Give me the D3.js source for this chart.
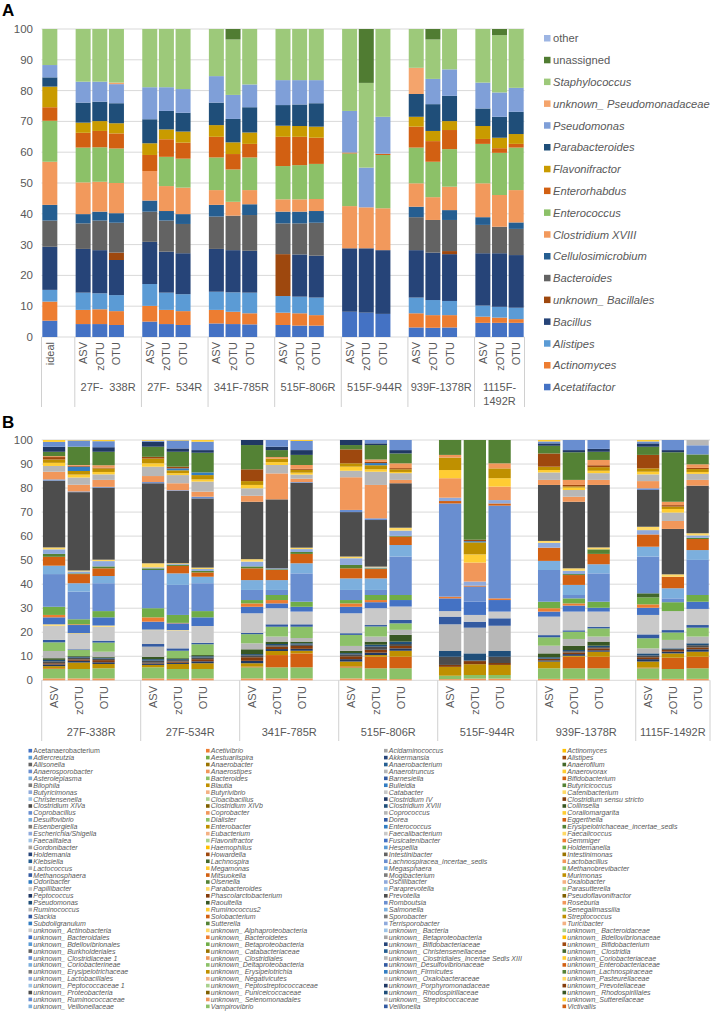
<!DOCTYPE html>
<meta charset="utf-8">
<script src="https://d3js.org/d3.v7.min.js"></script>
<style>
  body { margin: 0; background: #fff; }
  svg text { font-family: "Liberation Sans", Arial, sans-serif; fill: #595959; }
</style>
<div id="chart"></div>
<script>
// ---------------- panel A data ----------------
var seriesA = ["Acetatifactor", "Actinomyces", "Alistipes", "Bacillus", "unknown_ Bacillales", "Bacteroides",
  "Cellulosimicrobium", "Clostridium XVIII", "Enterococcus", "Enterorhabdus", "Flavonifractor",
  "Parabacteroides", "Pseudomonas", "unknown_ Pseudomonadaceae", "Staphylococcus", "unassigned", "other"];
var colorsA = ["#4472C4", "#ED7D31", "#5B9BD5", "#264478", "#9E480E", "#636363", "#255E91", "#F2995C",
  "#8CC168", "#D26012", "#C99B00", "#1F4E79", "#7F9FD8", "#F4A46C", "#9DC97A", "#507C32", "#9DB5E3"];
var uprightA = ["other", "unassigned"];
var groupNamesA = ["", "27F-  338R", "27F-  534R", "341F-785R", "515F-806R", "515F-944R", "939F-1378R", "1115F-1492R"];
var methods = ["ASV", "zOTU", "OTU"];

// percentages, one row per bar, columns in seriesA order
var aIdeal = [[5.3, 6.2, 3.8, 14.0, 0, 8.5, 5.1, 14.0, 13.3, 4.4, 6.7, 3.0, 4.0, 0, 11.7, 0, 0]];
var a27F338R = [
  [4.2, 4.6, 5.6, 14.2, 0, 8.3, 3.0, 10.3, 11.3, 4.8, 3.3, 6.5, 6.8, 0, 17.1, 0, 0],
  [4.2, 4.8, 5.2, 14.0, 0, 9.6, 2.9, 9.7, 11.2, 5.3, 3.2, 6.3, 6.5, 0, 17.1, 0, 0],
  [3.9, 4.5, 5.2, 11.4, 2.4, 9.7, 3.1, 9.8, 11.2, 4.9, 3.3, 6.5, 6.2, 0.5, 17.4, 0, 0]];
var a27F534R = [
  [5.0, 5.1, 7.1, 13.7, 0, 9.8, 3.6, 9.6, 0, 5.2, 3.8, 7.8, 10.4, 0, 18.9, 0, 0],
  [4.2, 4.6, 5.6, 13.3, 0, 10.1, 3.1, 8.1, 9.5, 5.7, 3.2, 6.0, 7.7, 0, 18.9, 0, 0],
  [3.9, 4.5, 5.5, 13.3, 0, 9.5, 3.2, 8.6, 9.4, 5.2, 3.6, 6.1, 7.7, 0, 19.5, 0, 0]];
var a341F785R = [
  [4.4, 4.4, 5.9, 13.9, 0, 10.5, 3.8, 4.8, 10.6, 6.7, 3.8, 7.3, 8.6, 0, 15.3, 0, 0],
  [4.2, 4.0, 6.3, 13.7, 0, 11.2, 0, 4.5, 10.5, 5.0, 3.8, 7.6, 7.8, 0, 18.0, 3.4, 0],
  [4.1, 3.6, 6.7, 13.6, 0, 11.6, 3.5, 4.6, 10.6, 4.4, 3.7, 8.2, 7.4, 0, 18.0, 0, 0]];
var a515F806R = [
  [3.9, 4.0, 5.4, 0, 13.6, 10.0, 3.8, 4.0, 10.8, 9.5, 3.6, 6.7, 8.1, 0, 16.6, 0, 0],
  [3.7, 4.0, 5.4, 13.7, 0, 10.1, 3.8, 4.0, 11.1, 9.2, 3.5, 7.0, 7.9, 0, 16.6, 0, 0],
  [3.7, 3.4, 5.7, 13.6, 0, 10.7, 3.8, 3.9, 11.4, 8.5, 3.6, 7.6, 7.5, 0, 16.6, 0, 0]];
var a515F944R = [
  [8.2, 0, 0, 20.6, 0, 0, 0, 13.7, 17.1, 0.3, 0, 0, 13.5, 0, 26.6, 0, 0],
  [7.9, 0, 0, 20.9, 0, 0, 0, 13.3, 0, 0, 0, 0, 12.9, 0, 27.5, 17.5, 0],
  [7.5, 0, 0, 20.7, 0, 0, 0, 13.6, 17.3, 0.4, 0, 0, 12.0, 0, 28.5, 0, 0]];
var a939F1378R = [
  [3.1, 4.6, 5.1, 15.4, 0, 10.7, 3.4, 7.6, 11.6, 6.8, 3.2, 7.4, 0, 8.5, 12.6, 0, 0],
  [3.0, 4.1, 4.9, 15.4, 0, 10.6, 0, 7.4, 11.5, 6.7, 3.3, 8.7, 8.2, 0, 12.8, 3.4, 0],
  [3.1, 4.0, 4.6, 15.2, 1.0, 10.1, 3.2, 7.6, 12.2, 6.2, 2.9, 8.2, 8.6, 0, 13.1, 0, 0]];
var a1115F1492R = [
  [4.6, 2.0, 3.6, 17.0, 0, 9.2, 2.5, 11.0, 12.8, 1.6, 4.2, 5.7, 8.4, 0, 17.4, 0, 0],
  [4.6, 1.7, 3.5, 17.4, 0, 8.6, 0, 10.3, 13.7, 1.5, 3.4, 6.8, 7.9, 0, 18.6, 2.0, 0],
  [4.6, 1.2, 3.7, 17.1, 0, 8.5, 2.1, 10.5, 13.8, 1.2, 3.2, 7.2, 7.8, 0, 19.1, 0, 0]];

// ---------------- panel B data ----------------
// legend, read column by column
var legendCol1 = ["Acetanaerobacterium", "Adlercreutzia", "Allisonella", "Anaerosporobacter", "Asteroleplasma", "Bilophila",
  "Butyricimonas", "Christensenella", "Clostridium XIVa", "Coprobacillus", "Desulfovibrio", "Eisenbergiella",
  "Escherichia/Shigella", "Faecalitalea", "Gordonibacter", "Holdemania", "Klebsiella", "Lactococcus", "Methanosphaera",
  "Odoribacter", "Papillibacter", "Peptococcus", "Pseudomonas", "Ruminococcus", "Slackia", "Subdoligranulum",
  "unknown_ Actinobacteria", "unknown_ Bacteroidales", "unknown_ Bdellovibrionales", "unknown_ Burkholderiales",
  "unknown_ Clostridiaceae 1", "unknown_ Coriobacterineae", "unknown_ Erysipelotrichaceae", "unknown_ Lactobacillales",
  "unknown_ Peptococcaceae 1", "unknown_ Proteobacteria", "unknown_ Ruminococcaceae", "unknown_ Veillonellaceae"];
var legendCol2 = ["Acetivibrio", "Aestuariispira", "Anaerobacter", "Anaerostipes", "Bacteroides", "Blautia", "Butyrivibrio",
  "Cloacibacillus", "Clostridium XIVb", "Coprobacter", "Dialister", "Enterobacter", "Eubacterium", "Flavonifractor",
  "Haemophilus", "Howardella", "Lachnospira", "Megamonas", "Mitsuokella", "Olsenella", "Parabacteroides",
  "Phascolarctobacterium", "Raoultella", "Ruminococcus2", "Solobacterium", "Sutterella", "unknown_ Alphaproteobacteria",
  "unknown_ Bacteroidetes", "unknown_ Betaproteobacteria", "unknown_ Catabacteriaceae", "unknown_ Clostridiales",
  "unknown_Deltaproteobacteria", "unknown_ Erysipelotrichia", "unknown_ Negativicutes", "unknown_ Peptostreptococcaceae",
  "unknown_ Puniceicoccaceae", "unknown_ Selenomonadales", "Vampirovibrio"];
var legendCol3 = ["Acidaminococcus", "Akkermansia", "Anaerobacterium", "Anaerotruncus", "Barnesiella", "Bulleidia", "Catabacter",
  "Clostridium IV", "Clostridium XVIII", "Coprococcus", "Dorea", "Enterococcus", "Faecalibacterium", "Fusicatenibacter",
  "Hespellia", "Intestinibacter", "Lachnospiracea_incertae_sedis", "Megasphaera", "Mogibacterium", "Oscillibacter",
  "Paraprevotella", "Prevotella", "Romboutsia", "Salmonella", "Sporobacter", "Terrisporobacter", "unknown_ Bacteria",
  "unknown_ Betaproteobacteria", "unknown_ Bifidobacteriaceae", "unknown_ Christensenellaceae",
  "unknown_ Clostridiales_Incertae Sedis XIII", "unknown_Desulfovibrionaceae", "unknown_Firmicutes",
  "unknown_ Oxalobacteraceae", "unknown_Porphyromonadaceae", "unknown_ Rhodospirillaceae", "unknown_ Streptococcaceae",
  "Veillonella"];
var legendCol4 = ["Actinomyces", "Alistipes", "Anaerofilum", "Anaerovorax", "Bifidobacterium", "Butyricicoccus", "Catenibacterium",
  "Clostridium sensu stricto", "Collinsella", "Coraliomargarita", "Eggerthella", "Erysipelotrichaceae_incertae_sedis",
  "Faecalicoccus", "Gemmiger", "Holdemanella", "Intestinimonas", "Lactobacillus", "Methanobrevibacter", "Murimonas",
  "Oxalobacter", "Parasutterella", "Pseudoflavonifractor", "Roseburia", "Senegalimassilia", "Streptococcus", "Turicibacter",
  "unknown_ Bacteroidaceae", "unknown_ Bdellovibrionaceae", "unknown_ Bifidobacterium", "unknown_ Clostridia",
  "unknown_Coriobacteriaceae", "unknown_Enterobacteriaceae", "unknown_Lachnospiraceae", "unknown_Pasteurellaceae",
  "unknown_Prevotellaceae", "unknown_ Rhodospirillales", "unknown_Sutterellaceae", "Victivallis"];

// taxa that show up as visible segments, in stacking order
var taxaB = ["Anaerostipes", "Bacteroides", "Bifidobacterium", "Blautia", "Clostridium IV", "Clostridium sensu stricto",
  "Clostridium XIVa", "Clostridium XVIII", "Collinsella", "Coprococcus", "Dialister", "Dorea", "Faecalibacterium",
  "Faecalicoccus", "Fusicatenibacter", "Gemmiger", "Holdemanella", "Lachnospira", "Lachnospiracea_incertae_sedis",
  "Megasphaera", "Mitsuokella", "Olsenella", "Oscillibacter", "Parabacteroides", "Prevotella", "Romboutsia", "Roseburia",
  "Ruminococcus", "Ruminococcus2", "Streptococcus", "Subdoligranulum", "unknown_ Bifidobacterium", "unknown_ Clostridiales",
  "unknown_Lachnospiraceae", "unknown_Porphyromonadaceae", "unknown_ Ruminococcaceae", "unknown_ Streptococcaceae",
  "unknown_Sutterellaceae"];

var b27F338R = [
  [0.8, 3.9, 0.3, 0.9, 0.7, 0.5, 0.8, 0.6, 0.7, 3.0, 3.6, 1.0, 5.9, 0.6, 2.9, 1.0, 3.4, 0, 13.6, 3.5, 3.7, 1.2, 1.9, 0.8, 27.8, 0.5, 3.2, 2.4, 1.3, 1.4, 0, 1.0, 0.4, 1.8, 2.1, 2.0, 0, 0.8],
  [0.8, 3.9, 0, 2.7, 0.7, 0.6, 0.7, 0.4, 0.3, 0, 2.5, 0.3, 6.4, 0.3, 3.4, 0.3, 2.1, 0, 11.5, 3.5, 3.8, 0.3, 0.8, 0.4, 32.6, 0.3, 2.8, 3.0, 1.2, 1.5, 1.8, 0.4, 0.3, 7.6, 0, 2.6, 0, 0.2],
  [0.8, 4.2, 0, 1.8, 0.7, 0.9, 0.6, 0.4, 0.4, 2.1, 3.8, 0.8, 5.8, 0.5, 3.4, 0, 2.6, 0, 11.6, 3.0, 3.2, 0.8, 2.2, 0.6, 30.0, 0.3, 2.9, 2.3, 1.0, 1.5, 0, 0.3, 1.0, 5.6, 1.9, 2.5, 0, 0.5]];
var b27F534R = [
  [0.8, 4.6, 0, 1.0, 0.6, 0.3, 0.9, 0.6, 1.0, 4.2, 0, 1.1, 5.8, 0.2, 3.3, 1.8, 3.8, 0, 15.9, 0, 0, 0.7, 0.4, 1.7, 33.3, 0.5, 2.5, 3.9, 1.4, 2.0, 0, 0.7, 0, 4.2, 2.1, 0.4, 0, 0.3],
  [0.6, 4.1, 0, 2.1, 0.5, 0.5, 0.6, 0.4, 0.4, 0, 3.1, 1.0, 7.4, 0.2, 2.8, 0.2, 3.3, 0, 12.5, 4.8, 3.1, 0.5, 0.3, 0.3, 30.1, 0.3, 2.9, 3.4, 0.8, 1.2, 0.8, 0.7, 0, 6.2, 1.4, 3.3, 0, 0.2],
  [0.8, 3.9, 0, 2.4, 0.8, 0.9, 0.7, 0.5, 0.5, 0, 4.5, 0.6, 7.0, 0, 3.6, 0, 2.6, 0, 11.6, 2.7, 1.8, 0.6, 0.8, 0.6, 28.8, 0.7, 2.1, 4.2, 0.9, 1.8, 1.1, 0, 0, 8.2, 1.1, 3.5, 0, 0.7]];
var b341F785R = [
  [0.8, 4.6, 0.3, 1.4, 1.0, 1.5, 0.8, 0.5, 2.0, 2.5, 3.8, 0.5, 8.2, 0, 2.7, 1.4, 1.4, 0, 4.2, 4.1, 4.9, 0.8, 2.0, 1.0, 23.9, 0, 2.5, 3.1, 1.4, 1.6, 0, 4.9, 0, 10.1, 2.1, 0, 0, 0],
  [0.8, 4.6, 5.1, 1.7, 0.8, 1.0, 0.6, 0.5, 1.0, 2.1, 4.1, 1.0, 6.7, 0, 2.0, 1.4, 2.1, 0, 2.1, 4.1, 4.2, 0.3, 0.4, 0, 28.7, 0, 10.8, 3.5, 1.2, 1.5, 0, 0, 0.6, 2.9, 1.4, 2.8, 0, 0],
  [0.8, 4.6, 5.8, 1.1, 0.8, 1.2, 0.6, 0.5, 0.7, 1.5, 4.7, 1.0, 5.3, 0, 2.0, 0, 2.1, 0, 11.8, 4.2, 3.9, 0.8, 1.2, 0.6, 27.0, 0.3, 1.4, 1.7, 0.8, 1.2, 0, 0.4, 1.6, 4.2, 2.0, 3.8, 0, 0.4]];
var b515F806R = [
  [0.8, 4.5, 0.5, 2.0, 1.0, 1.2, 0.8, 0.5, 1.0, 2.0, 4.6, 0.7, 8.3, 0, 2.7, 1.4, 1.4, 0, 4.2, 4.8, 4.2, 1.4, 2.8, 0.7, 18.5, 0.9, 13.6, 2.7, 1.7, 1.4, 0, 5.8, 0, 1.8, 2.1, 0, 0, 0],
  [0.6, 4.4, 4.8, 0.7, 1.0, 1.2, 1.3, 0.8, 1.3, 2.1, 4.2, 0.6, 7.0, 0, 2.5, 0.9, 2.1, 0, 2.1, 4.8, 3.9, 0.3, 0.4, 0.3, 19.4, 0.7, 13.9, 5.5, 1.0, 1.7, 0.9, 0.5, 1.0, 6.0, 0.7, 1.4, 0, 0],
  [0.5, 4.5, 4.8, 2.5, 1.0, 1.0, 0.8, 1.0, 2.8, 2.1, 2.7, 1.4, 5.6, 0, 2.7, 0, 2.1, 0, 16.0, 4.8, 3.5, 0.3, 2.2, 1.2, 18.5, 0, 1.4, 2.8, 0.5, 1.1, 0, 0.5, 2.0, 4.1, 1.4, 4.2, 0, 0]];
var b515F944R = [
  [0.5, 1.4, 0, 3.7, 0, 0.8, 3.4, 2.4, 0, 11.1, 0, 3.2, 2.3, 0, 5.3, 0.7, 0, 0, 38.8, 0, 1.0, 0, 1.4, 0, 0, 0, 8.1, 0, 3.4, 5.2, 0, 0, 1.1, 6.2, 0, 0, 0, 0],
  [0.7, 1.5, 0, 4.5, 0, 1.3, 0.3, 2.9, 0, 10.7, 0, 2.5, 2.8, 0, 5.5, 0, 0, 0, 6.3, 0, 0.4, 0, 1.7, 0, 0, 0, 7.9, 0, 3.4, 5.0, 0.5, 0.6, 0, 41.5, 0, 0, 0, 0],
  [0.7, 1.5, 0, 4.2, 0, 0.8, 2.6, 2.4, 0, 10.5, 0, 3.1, 2.8, 0, 4.8, 0.7, 0, 0, 38.6, 0, 0.9, 0, 1.4, 0, 0, 0, 5.6, 0, 3.5, 4.1, 0, 0, 2.1, 9.7, 0, 0, 0, 0]];
var b939F1378R = [
  [0.6, 4.4, 0, 2.8, 0.5, 0.7, 0, 0.6, 1.6, 3.2, 3.5, 0.9, 7.7, 0, 2.1, 1.4, 2.7, 0, 13.2, 3.8, 5.5, 0, 2.0, 0.8, 23.3, 0, 2.1, 3.1, 1.0, 1.4, 0, 5.5, 0, 3.2, 1.0, 0.8, 0, 0.6],
  [0.6, 4.4, 4.8, 0.4, 0.7, 0.7, 0.5, 0.5, 1.8, 2.8, 3.0, 0.6, 7.8, 0, 2.5, 0.9, 2.1, 0, 1.4, 4.2, 4.1, 0.4, 1.4, 1.0, 27.7, 0, 2.1, 2.8, 1.0, 0.5, 0, 0.6, 2.1, 11.5, 0.9, 4.2, 0, 0],
  [0.6, 4.4, 4.8, 2.1, 0.6, 0.8, 0.5, 0.6, 1.7, 2.1, 3.4, 0.7, 6.3, 0, 1.6, 0, 2.5, 0, 11.8, 3.8, 4.3, 1.9, 0, 0.8, 26.0, 0, 2.1, 2.8, 1.0, 1.5, 0, 0.8, 2.2, 3.4, 1.2, 3.7, 0, 0]];
var b1115F1492R = [
  [0.6, 4.4, 0.3, 2.5, 1.0, 0.8, 0.7, 0.9, 0, 2.1, 4.2, 1.6, 8.1, 0, 3.0, 1.4, 2.9, 1.7, 15.3, 4.1, 5.1, 0, 1.8, 1.4, 15.3, 0.7, 3.0, 2.8, 1.1, 1.4, 0, 5.6, 0, 3.4, 1.4, 0.8, 0, 0.6],
  [0.6, 4.1, 4.7, 1.8, 0.7, 0.7, 0.4, 0.3, 0, 3.5, 3.1, 1.0, 7.9, 0, 0, 0, 3.7, 0, 1.6, 4.2, 4.8, 0, 0, 1.0, 18.9, 0, 3.3, 3.5, 1.5, 1.0, 0, 0.6, 1.4, 20.6, 0.9, 4.2, 0, 0],
  [0.6, 4.4, 4.8, 2.1, 1.0, 0.8, 0.9, 0.8, 0, 2.8, 3.7, 1.1, 6.7, 0, 3.0, 0, 2.8, 0, 14.6, 4.1, 4.6, 0.5, 1.0, 0.9, 19.8, 0, 2.4, 2.5, 0.8, 1.2, 0, 0.5, 1.5, 4.1, 0, 3.8, 2.2, 0]];
var groupNamesB = ["27F-338R", "27F-534R", "341F-785R", "515F-806R", "515F-944R", "939F-1378R", "1115F-1492R"];

// Excel style shades used for the long legend
var shades = [
  ["#4472C4", "#ED7D31", "#A5A5A5", "#FFC000", "#5B9BD5", "#70AD47"],
  ["#264478", "#9E480E", "#636363", "#997300", "#255E91", "#43682B"],
  ["#698ED0", "#F1975A", "#B7B7B7", "#FFCD33", "#7CAFDD", "#8CC168"],
  ["#335AA1", "#D26012", "#7C7C7C", "#BF9000", "#327DC2", "#548235"],
  ["#8FAADC", "#F4B183", "#C9C9C9", "#FFD966", "#9DC3E6", "#A9D18E"],
  ["#203864", "#843C0C", "#4D4D4D", "#7F6000", "#1F4E79", "#385723"]];
function shadeFor(i) {
  var b = Math.floor(i / 6);
  var v = b < 6 ? b : [2, 3, 4, 0, 1, 2, 3, 4, 5][(b - 6) % 9];
  return shades[v][i % 6];
}

// all taxa in alphabetical (row by row) order
var allTaxa = [];
legendCol1.forEach(function(d, r) {
  allTaxa.push(legendCol1[r], legendCol2[r], legendCol3[r], legendCol4[r]);
});

var svg = d3.select("#chart").append("svg")
  .attr("width", 712).attr("height", 1012);
svg.append("rect").attr("width", 712).attr("height", 1012).attr("fill", "#fff");

// one stacked panel with grouped category axis
function drawPanel(p) {
  var domain = [], rows = [], spans = [];
  p.groups.forEach(function(g, gi) {
    var firstKey = null;
    g.bars.forEach(function(b, bi) {
      var key = gi + "|" + b;
      if (firstKey === null) firstKey = key;
      domain.push(key);
      var row = {key: key, label: b};
      p.keys.forEach(function(k, ki) { row[k] = g.values[bi][ki]; });
      rows.push(row);
    });
    if (gi < p.groups.length - 1) domain.push("gap" + gi);
    spans.push({name: g.name, first: firstKey});
  });

  var x = d3.scaleBand().domain(domain).range([p.x0, p.x1])
    .paddingInner(0.1).paddingOuter(0.05);
  var y = d3.scaleLinear().domain([0, 100]).range([p.yBottom, p.yTop]);
  var step = x.step();

  var g = svg.append("g");

  // gridlines and tick labels
  y.ticks(10).forEach(function(t) {
    g.append("line").attr("x1", p.x0).attr("x2", p.x1)
      .attr("y1", y(t)).attr("y2", y(t))
      .attr("stroke", "#D9D9D9").attr("stroke-width", 1);
    g.append("text").attr("x", 33).attr("y", y(t) + 4)
      .attr("text-anchor", "end").style("font-size", "11.5px").text(t);
  });

  // stacked bars
  var stacked = d3.stack().keys(p.keys)(rows);
  stacked.forEach(function(s, si) {
    g.append("g").attr("fill", p.color(p.keys[si], si))
      .selectAll("rect").data(s.filter(function(d) { return d[1] - d[0] > 0; }))
      .enter().append("rect")
        .attr("x", function(d) { return x(d.data.key); })
        .attr("width", x.bandwidth())
        .attr("y", function(d) { return y(d[1]); })
        .attr("height", function(d) { return y(d[0]) - y(d[1]); });
  });

  // category labels
  rows.forEach(function(r) {
    var cx = x(r.key) + x.bandwidth() / 2 + 4;
    g.append("text").attr("transform", "translate(" + cx + "," + p.labelY + ") rotate(-90)")
      .attr("text-anchor", "end").style("font-size", "11px").text(r.label);
  });

  // group separators and labels
  var edges = spans.map(function(s) { return x(s.first) - step * 0.05; });
  edges.push(p.x1);
  edges.forEach(function(e) {
    g.append("line").attr("x1", e).attr("x2", e)
      .attr("y1", p.yBottom).attr("y2", p.sepBottom)
      .attr("stroke", "#D0D0D0").attr("stroke-width", 1);
  });
  spans.forEach(function(s, i) {
    if (!s.name) return;
    var cx = (edges[i] + edges[i + 1]) / 2;
    var width = edges[i + 1] - edges[i];
    var t = g.append("text").attr("x", cx).attr("y", p.groupY)
      .attr("text-anchor", "middle").style("font-size", "11px")
      .style("white-space", "pre").text(s.name);
    if (t.node().getComputedTextLength() > width - 2 && s.name.indexOf("-") > 0) {
      var cut = s.name.indexOf("-") + 1;
      t.text(null);
      t.append("tspan").attr("x", cx).text(s.name.slice(0, cut));
      t.append("tspan").attr("x", cx).attr("dy", 14).text(s.name.slice(cut));
    }
  });
}

// ---------------- panel A ----------------
var valuesA = [aIdeal, a27F338R, a27F534R, a341F785R, a515F806R, a515F944R, a939F1378R, a1115F1492R];
drawPanel({
  groups: groupNamesA.map(function(n, i) {
    return {name: n, bars: i === 0 ? ["ideal"] : methods, values: valuesA[i]};
  }),
  keys: seriesA,
  color: function(k, i) { return colorsA[i]; },
  x0: 41.5, x1: 524.5, yTop: 29, yBottom: 337,
  labelY: 342, groupY: 391, sepBottom: 407
});

svg.append("text").attr("x", 2).attr("y", 16).style("font-size", "17px")
  .style("font-weight", "bold").style("fill", "#000").text("A");

// legend A (reverse stacking order)
seriesA.slice().reverse().forEach(function(name, i) {
  var cy = 38.3 + i * 21.8;
  var idx = seriesA.indexOf(name);
  svg.append("rect").attr("x", 544).attr("y", cy - 3.3).attr("width", 6.5).attr("height", 6.5)
    .attr("fill", colorsA[idx]);
  svg.append("text").attr("x", 553).attr("y", cy + 4)
    .style("font-size", "11.2px")
    .style("fill", "#595959")
    .style("font-style", uprightA.indexOf(name) >= 0 ? "normal" : "italic")
    .style("white-space", "pre")
    .text(name);
});

// ---------------- panel B ----------------
var valuesB = [b27F338R, b27F534R, b341F785R, b515F806R, b515F944R, b939F1378R, b1115F1492R];
drawPanel({
  groups: groupNamesB.map(function(n, i) {
    return {name: n, bars: methods, values: valuesB[i]};
  }),
  keys: taxaB,
  color: function(k) { return shadeFor(allTaxa.indexOf(k)); },
  x0: 41.7, x1: 710, yTop: 440, yBottom: 680.3,
  labelY: 686, groupY: 736, sepBottom: 741
});

svg.append("text").attr("x", 2).attr("y", 428).style("font-size", "17px")
  .style("font-weight", "bold").style("fill", "#000").text("B");

// legend B: four columns
var colX = [28.5, 206, 384, 562.5];
[legendCol1, legendCol2, legendCol3, legendCol4].forEach(function(col, c) {
  col.forEach(function(name, r) {
    var idx = r * 4 + c;
    var cy = 750.7 + r * 6.91;
    svg.append("rect").attr("x", colX[c]).attr("y", cy - 1.8).attr("width", 3.6).attr("height", 3.6)
      .attr("fill", shadeFor(idx));
    svg.append("text").attr("x", colX[c] + 4.8).attr("y", cy + 2.5)
      .style("font-size", "7px")
      .style("fill", "#595959")
      .style("font-style", idx === 0 ? "normal" : "italic")
      .text(name);
  });
});
</script>
